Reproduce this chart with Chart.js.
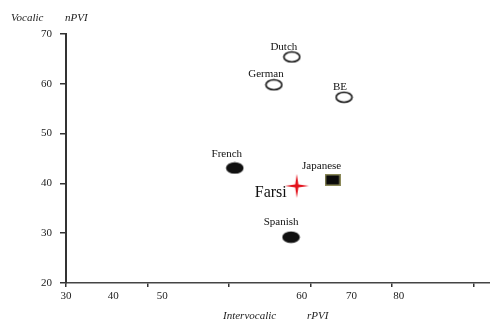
<!DOCTYPE html>
<html>
<head>
<meta charset="utf-8">
<script src="https://cdn.jsdelivr.net/npm/chart.js@4/dist/chart.umd.min.js"></script>
<style>
html, body { margin: 0; padding: 0; background: #fff; }
#wrap { width: 490px; height: 322px; }
</style>
</head>
<body>
<div id="wrap"><canvas id="chart"></canvas></div>
<script>
const languages = ["Dutch", "German", "BE", "French", "Japanese", "Farsi", "Spanish"];
const rPVI = [57.7, 55.5, 64.1, 50.7, 62.7, 58.3, 57.6];
const nPVI = [65.4, 59.8, 57.3, 43.1, 40.7, 39.5, 29.2];
const xTicks = [30, 40, 50, 60, 70, 80];
const yTicks = [20, 30, 40, 50, 60, 70];

const serif = "'Liberation Serif', 'DejaVu Serif', serif";

function makeEllipse(filled) {
    const c = document.createElement("canvas");
    c.width = 19; c.height = 13;
    const g = c.getContext("2d");
    g.beginPath();
    g.ellipse(9.5, 6.5, 8, 5, 0, 0, Math.PI * 2);
    g.fillStyle = filled ? "#111" : "#fff";
    g.fill();
    g.lineWidth = 1.6;
    g.strokeStyle = "#111";
    g.stroke();
    return c;
}

function makeBox() {
    const c = document.createElement("canvas");
    c.width = 16; c.height = 12;
    const g = c.getContext("2d");
    g.fillStyle = "#8c8a5a";
    g.fillRect(0, 0, 16, 12);
    g.fillStyle = "#0a0a0a";
    g.fillRect(1.5, 1.5, 13, 9);
    return c;
}

function makeStar() {
    const c = document.createElement("canvas");
    c.width = 24; c.height = 24;
    const g = c.getContext("2d");
    g.beginPath();
    g.moveTo(12, 0);
    g.lineTo(13.6, 10.4);
    g.lineTo(24, 12);
    g.lineTo(13.6, 13.6);
    g.lineTo(12, 24);
    g.lineTo(10.4, 13.6);
    g.lineTo(0, 12);
    g.lineTo(10.4, 10.4);
    g.closePath();
    g.fillStyle = "#e3121c";
    g.fill();
    return c;
}

const openOval = makeEllipse(false);
const filledOval = makeEllipse(true);
const markerFor = {
    Dutch: openOval, German: openOval, BE: openOval,
    French: filledOval, Spanish: filledOval,
    Japanese: makeBox(), Farsi: makeStar()
};
const labelStyle = {
    Dutch:    { dx: -8,  dy: -10, size: 11 },
    German:   { dx: -8,  dy: -11, size: 11 },
    BE:       { dx: -4,  dy: -10, size: 11 },
    French:   { dx: -8,  dy: -14, size: 11 },
    Japanese: { dx: -11, dy: -14, size: 11 },
    Spanish:  { dx: -10, dy: -15, size: 11 },
    Farsi:    { dx: -26, dy: 7,   size: 16 }
};

const pointLabels = {
    id: "pointLabels",
    afterDatasetsDraw(chart) {
        const g = chart.ctx;
        const meta = chart.getDatasetMeta(0);
        g.save();
        g.fillStyle = "#111";
        g.textAlign = "center";
        g.textBaseline = "middle";
        meta.data.forEach((el, i) => {
            const s = labelStyle[languages[i]];
            g.font = s.size + "px " + serif;
            g.fillText(languages[i], el.x + s.dx, el.y + s.dy);
        });
        g.restore();
    }
};

// the original figure prints its x labels off the tick marks; kept that way
const xLabelAt = {
    id: "xLabelAt",
    afterDraw(chart, args, opts) {
        const g = chart.ctx;
        const sx = chart.scales.x;
        g.save();
        g.fillStyle = "#222";
        g.font = "11px " + serif;
        g.textAlign = "center";
        g.textBaseline = "middle";
        xTicks.forEach((t, i) => {
            g.fillText(String(t), sx.getPixelForValue(opts.at[i]), chart.chartArea.bottom + 13);
        });
        g.font = "italic 11px " + serif;
        g.textAlign = "left";
        g.fillText("Vocalic", 11, 18);
        g.fillText("nPVI", 65, 18);
        g.fillText("Intervocalic", 223, 316);
        g.fillText("rPVI", 307, 316);
        g.restore();
    }
};

const ctx = document.getElementById("chart").getContext("2d");
const chart = new Chart(ctx, {
    type: "scatter",
    data: {
        datasets: [{
            data: rPVI.map((x, i) => ({ x: x, y: nPVI[i] })),
            pointStyle: languages.map(l => markerFor[l]),
            pointRadius: 9,
            pointHoverRadius: 9
        }]
    },
    options: {
        responsive: true,
        maintainAspectRatio: false,
        animation: false,
        layout: { autoPadding: false, padding: { top: 34, right: 0, left: 0, bottom: 0 } },
        plugins: {
            legend: { display: false },
            tooltip: { enabled: false },
            xLabelAt: { at: [30, 35.8, 41.8, 58.9, 65.0, 70.8] }
        },
        scales: {
            x: {
                type: "linear",
                min: 30,
                max: 82,
                afterBuildTicks: s => { s.ticks = xTicks.map(v => ({ value: v })); },
                afterFit: s => { s.height = 39; },
                ticks: { display: false },
                grid: { drawOnChartArea: false, drawTicks: true, tickLength: 4, color: "#333", lineWidth: 1.5 },
                border: { color: "#444", width: 1.5 }
            },
            y: {
                min: 20,
                max: 70,
                afterBuildTicks: s => { s.ticks = yTicks.map(v => ({ value: v })); },
                afterFit: s => { s.width = 66; },
                ticks: { color: "#222", font: { family: serif, size: 11 }, padding: 8 },
                grid: { drawOnChartArea: false, drawTicks: true, tickLength: 6, color: "#333", lineWidth: 1.5 },
                border: { color: "#333", width: 2 }
            }
        }
    },
    plugins: [pointLabels, xLabelAt]
});
</script>
</body>
</html>
